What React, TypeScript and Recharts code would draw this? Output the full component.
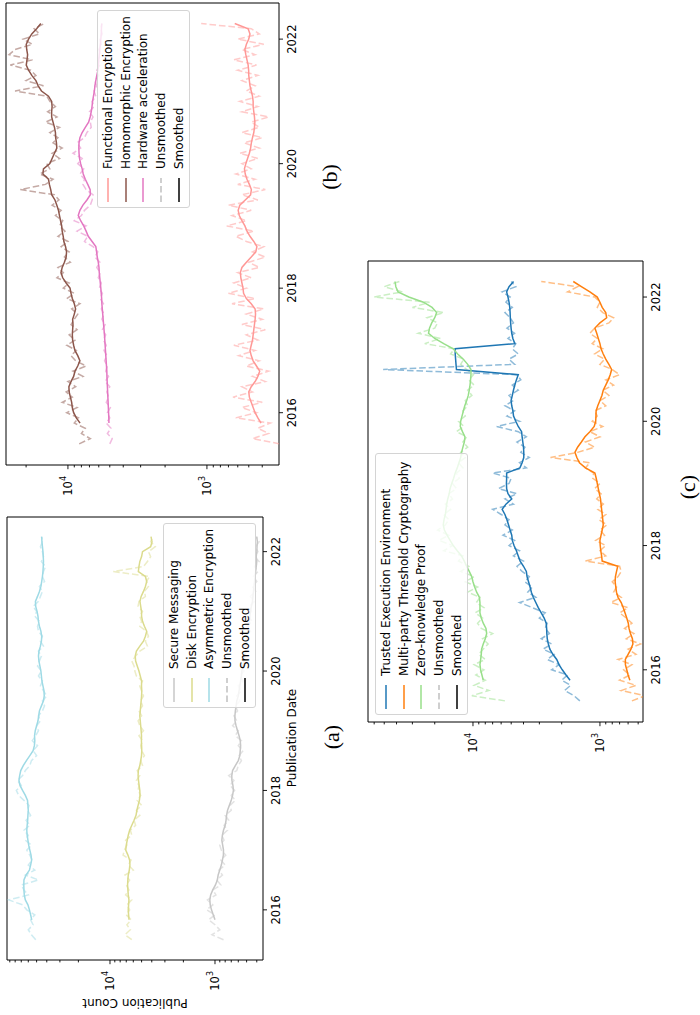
import React from 'react';
import { LineChart, Line, XAxis, YAxis, ReferenceArea } from 'recharts';

const FONT = '"DejaVu Sans", sans-serif';
const SERIF = '"Liberation Serif", "DejaVu Serif", serif';

// monthly samples, Jul 2015 .. Apr 2022
const START_YEAR = 2015.5;
const months: number[] = Array.from({ length: 82 }, (_, i) => START_YEAR + i / 12);

const yearTicks = [2016, 2018, 2020, 2022];
const xDomain: [number, number] = [2015.16, 2022.58];
const majorTicks = [1000, 10000];
const minorTicks = [
  200, 300, 400, 500, 600, 700, 800, 900,
  2000, 3000, 4000, 5000, 6000, 7000, 8000, 9000,
  20000, 30000, 40000, 50000, 60000, 70000, 80000, 90000,
];

const _ = null;

// ---- panel (a)
const secureRaw = [
  830, 1070, 900, 1000, 1150, 1000, 1200, 1050, 1180, 980,
  1050, 880, 960, 850, 920, 800, 880, 790, 870, 900,
  820, 860, 760, 820, 740, 800, 700, 720, 640, 700,
  650, 720, 660, 740, 620, 600, 560, 590, 540, 600,
  560, 640, 600, 680, 620, 660, 610, 640, 580, 620,
  560, 600, 540, 580, 530, 570, 500, 550, 480, 530,
  470, 520, 460, 500, 440, 490, 450, 470, 420, 460,
  410, 440, 400, 430, 390, 420, 380, 420, 390, 410,
  380, 410,
];
const secureSmooth = [
  _, _, _, _, 1000, 1040, 1080, 1110, 1120, 1100,
  1050, 990, 950, 933, 900, 870, 850, 832, 830, 845,
  861, 850, 830, 800, 785, 776, 760, 730, 700, 680,
  668, 675, 690, 692, 680, 640, 600, 580, 575, 570,
  575, 590, 610, 630, 645, 646, 640, 630, 620, 600,
  590, 580, 570, 560, 555, 545, 530, 520, 510, 505,
  500, 495, 490, 480, 470, 465, 460, 450, 440, 435,
  430, 425, 420, 415, 410, 405, 400, 405, 400, 398,
  395, 400,
];
const diskRaw = [
  6200, 7200, 6400, 6900, 6300, 7000, 6500, 6900, 6200, 7100,
  6600, 7000, 6500, 7200, 6000, 6700, 6300, 7500, 7300, 6900,
  7100, 6200, 6400, 5700, 5900, 5200, 5600, 5000, 5500, 5100,
  5400, 5300, 5600, 5200, 5500, 4900, 5100, 4700, 5000, 5100,
  4900, 5300, 4800, 5200, 5400, 5000, 5300, 4900, 5100, 4800,
  5000, 5200, 4900, 5600, 5800, 5900, 6200, 5700, 5200, 4400,
  4600, 4300, 4500, 5200, 5000, 5200, 4900, 5400, 5300, 4600,
  4700, 4300, 4500, 4200, 9300, 4800, 4400, 4100, 4300, 3700,
  4100, 3900,
];
const diskSmooth = [
  _, _, _, _, 6590, 6650, 6700, 6650, 6600, 6700,
  6750, 6800, 6760, 6700, 6550, 6460, 6500, 6750, 7080, 7000,
  6850, 6700, 6500, 6200, 5900, 5650, 5550, 5400, 5250, 5180,
  5200, 5280, 5350, 5400, 5370, 5200, 5100, 5010, 4980, 5000,
  5020, 5010, 5050, 5100, 5150, 5200, 5150, 5100, 5050, 5000,
  4980, 5010, 5000, 5150, 5300, 5500, 5700, 5750, 5600, 5200,
  4800, 4600, 4470, 4700, 4900, 5000, 5010, 5100, 5180, 5050,
  4800, 4600, 4470, 4600, 5370, 5300, 5200, 5000, 4900, 4100,
  3980, 4070,
];
const asymRaw = [
  51000, 56000, 60000, 54000, 57000, 52000, 62000, 68000, 92000, 60000,
  66000, 70000, 48000, 64000, 52000, 60000, 55000, 58000, 62000, 56000,
  64000, 60000, 66000, 58000, 63000, 57000, 61000, 59000, 66000, 74000,
  78000, 70000, 76000, 68000, 64000, 58000, 56000, 50000, 54000, 49000,
  55000, 51000, 48000, 50000, 46000, 48000, 44000, 42000, 44000, 40000,
  43000, 46000, 44000, 48000, 45000, 49000, 47000, 45000, 48000, 43000,
  46000, 44000, 48000, 49000, 47000, 52000, 50000, 54000, 48000, 46000,
  44000, 47000, 42000, 44000, 43000, 41000, 45000, 43000, 44000, 46000,
  44000, 45000,
];
const asymSmooth = [
  _, _, _, _, 55600, 57000, 58500, 60500, 64000, 65500,
  66000, 66200, 66000, 63000, 58500, 57000, 55800, 56500, 58000, 59500,
  60500, 61500, 62000, 61500, 60800, 60500, 60000, 60500, 61000, 64000,
  68000, 72000, 73600, 72500, 70800, 67000, 62500, 58000, 54000, 52500,
  52000, 52300, 51500, 50000, 48500, 47800, 47000, 45000, 43000, 42300,
  42500, 43500, 44500, 45000, 45500, 46500, 47500, 48000, 47500, 46000,
  45000, 44700, 45500, 47000, 48000, 48500, 49500, 51000, 51300, 49000,
  47000, 45500, 44700, 44000, 43500, 43200, 43000, 43200, 43500, 44000,
  44500, 44700,
];

// ---- panel (b)
const functionalRaw = [
  300, 470, 360, 430, 350, 620, 440, 560, 400, 650,
  470, 560, 380, 470, 360, 520, 420, 590, 450, 640,
  430, 520, 380, 560, 400, 520, 390, 660, 450, 700,
  520, 640, 480, 600, 420, 500, 380, 470, 390, 520,
  620, 460, 720, 520, 660, 480, 700, 430, 560, 380,
  600, 450, 620, 480, 560, 430, 580, 420, 540, 400,
  560, 420, 480, 360, 560, 430, 580, 420, 520, 450,
  560, 430, 600, 440, 640, 450, 560, 390, 600, 420,
  480, 1100,
];
const functionalSmooth = [
  _, _, _, _, 408, 430, 450, 465, 480, 495,
  500, 480, 450, 430, 417, 440, 465, 480, 490, 480,
  470, 465, 460, 455, 450, 447, 450, 480, 520, 545,
  550, 560, 570, 575, 560, 520, 480, 445, 437, 460,
  490, 515, 533, 560, 585, 596, 580, 530, 485, 479,
  495, 515, 530, 537, 525, 510, 495, 485, 479, 470,
  460, 455, 452, 455, 460, 465, 465, 470, 480, 490,
  495, 500, 501, 505, 515, 525, 533, 520, 500, 490,
  505, 631,
];
const homomorphicRaw = [
  8300, 6900, 8000, 7500, 9000, 8400, 10200, 8600, 11000, 9300,
  10300, 8800, 10000, 7800, 9200, 7400, 8800, 9500, 8700, 10200,
  8900, 9800, 8600, 9500, 9000, 8500, 9400, 8200, 10200, 9000,
  10800, 9800, 12000, 10800, 11800, 9600, 10600, 9800, 11200, 10000,
  11800, 10500, 11500, 10900, 12300, 11200, 13000, 11600, 12500, 22000,
  14500, 12800, 16000, 13500, 14200, 11500, 13000, 11000, 12800, 11800,
  13500, 11500, 14500, 12000, 14000, 12300, 13500, 14200, 24000, 15000,
  20000, 17000, 18500, 26000, 18000, 26500, 24000, 18000, 21000, 16000,
  17500, 14800,
];
const homomorphicSmooth = [
  _, _, _, _, 8180, 8700, 9100, 9300, 9400, 9600,
  9800, 9840, 9500, 9100, 8900, 8500, 8200, 8500, 8910, 9100,
  9250, 9300, 9250, 9200, 9250, 9000, 8810, 9000, 9300, 9500,
  9660, 10300, 10900, 11220, 11000, 10600, 10300, 10230, 10400, 10700,
  10810, 11000, 11090, 11300, 11500, 11700, 12020, 12400, 13090, 13300,
  13600, 13800, 15140, 15000, 13490, 13000, 12500, 12020, 12100, 12250,
  12300, 12500, 12800, 13090, 13100, 13000, 13090, 13800, 15500, 16370,
  17000, 18200, 19200, 19950, 19700, 19500, 19800, 19950, 19200, 18200,
  16800, 15670,
];
const hardwareRaw = [
  5000, 4800, 5200, 4900, 5300, 5000, 5200, 4950, 5300, 5100,
  5250, 5000, 5400, 5100, 5350, 5200, 5450, 5250, 5500, 5300,
  5550, 5350, 5650, 5400, 5700, 5500, 5750, 5550, 5850, 5650,
  5950, 5750, 6050, 5850, 6200, 5900, 6400, 6100, 6600, 7600,
  7200, 8600, 7400, 9000, 8000, 7600, 6900, 6700, 6600, 7400,
  7800, 7600, 8200, 7700, 8500, 7900, 9200, 8100, 8600, 7600,
  7300, 6800, 6900, 6600, 7000, 6500, 6700, 6300, 6500, 6200,
  6400, 6000, 6200, 5900, 6100, 5800, 6000, 5750, 5900, 5650,
  5800, 5700,
];
const hardwareSmooth = [
  _, _, _, _, 5070, 5080, 5100, 5120, 5140, 5160,
  5180, 5200, 5220, 5240, 5250, 5280, 5310, 5340, 5370, 5400,
  5430, 5460, 5500, 5540, 5580, 5620, 5660, 5700, 5720, 5760,
  5800, 5850, 5900, 5950, 5980, 6050, 6150, 6220, 6300, 6700,
  7140, 7400, 7700, 8100, 8430, 8200, 7800, 7300, 6900, 6920,
  7200, 7500, 7760, 7900, 8100, 8250, 8320, 8350, 8320, 8200,
  7900, 7500, 7100, 6920, 6800, 6710, 6650, 6550, 6450, 6400,
  6300, 6200, 6080, 6030, 6000, 5950, 5900, 5850, 5800, 5760,
  5740, 5710,
];

// ---- panel (c)
const teeRaw = [
  1440, 1600, 1900, 1700, 2000, 1800, 2400, 2100, 2600, 2300,
  2800, 2400, 2900, 2500, 2700, 2600, 3000, 2700, 3400, 4300,
  3200, 3700, 3400, 3900, 3600, 4100, 4500, 4000, 4800, 4300,
  5200, 4700, 5800, 4900, 5600, 5200, 6000, 7000, 4800, 5600,
  4500, 6300, 5200, 5000, 7000, 3800, 4300, 3600, 4200, 3900,
  4500, 3800, 4400, 6500, 4300, 5400, 4700, 5600, 4800, 5200,
  4400, 4900, 4200, 4500, 51000, 4700, 5200, 4400, 4900, 4600,
  5300, 4700, 5400, 4800, 5100, 5600, 4900, 5500, 5100, 5900,
  4600, 5000,
];
const teeSmooth = [
  _, _, _, _, 1720, 1850, 1980, 2100, 2190, 2350,
  2480, 2550, 2600, 2620, 2630, 2650, 2750, 2900, 3060, 3200,
  3350, 3470, 3550, 3650, 3750, 3800, 4000, 4250, 4400, 4550,
  4750, 4900, 4950, 5100, 5250, 5400, 5600, 5890, 5500, 4950,
  5300, 5430, 5450, 5430, 5430, 4270, 4100, 3980, 3980, 4000,
  4050, 4100, 4140, 4400, 4600, 4790, 4850, 4950, 5010, 4900,
  4800, 4680, 4550, 4400, 13490, 13600, 13700, 13800, 13800, 4680,
  4850, 4950, 5010, 5050, 5080, 5100, 5130, 5200, 5300, 5430,
  5200, 4790,
];
const multipartyRaw = [
  560, 440, 680, 520, 700, 580, 650, 560, 720, 520,
  600, 480, 620, 540, 640, 560, 620, 700, 600, 820,
  680, 780, 740, 800, 720, 680, 700, 1300, 900, 1000,
  900, 1080, 920, 1000, 880, 1020, 900, 1040, 940, 1060,
  980, 1100, 1000, 1140, 1120, 1300, 1200, 2450, 1500, 1100,
  1300, 1000, 1200, 950, 1150, 1050, 1100, 900, 1000, 850,
  950, 780, 900, 700, 800, 1000, 920, 1100, 950, 1150,
  1050, 1200, 1100, 850, 780, 950, 1050, 1000, 1100, 1800,
  1500, 2900,
];
const multipartySmooth = [
  _, _, _, _, 581, 600, 615, 630, 631, 600,
  570, 550, 555, 575, 590, 598, 615, 635, 655, 680,
  720, 741, 750, 759, 755, 740, 724, 960, 970, 985,
  995, 1000, 980, 960, 942, 950, 960, 970, 980, 990,
  1010, 1030, 1050, 1070, 1096, 1300, 1450, 1520, 1574, 1500,
  1400, 1312, 1200, 1110, 1080, 1075, 1072, 1040, 1000, 965,
  942, 900, 860, 830, 809, 850, 900, 942, 980, 1000,
  1030, 1060, 1096, 1000, 885, 900, 960, 1000, 1050, 1200,
  1400, 1622,
];
const zkRaw = [
  5600, 10200, 7500, 9800, 8000, 9500, 8200, 9800, 8000, 9000,
  8300, 7600, 8400, 7000, 8600, 9200, 8400, 9600, 8200, 9400,
  8800, 11000, 9200, 11500, 9800, 12500, 10800, 13000, 12000, 17000,
  14500, 18500, 15500, 19000, 16500, 15500, 17000, 15000, 16500, 14500,
  15500, 13500, 14500, 12800, 13500, 12000, 13000, 11500, 12500, 11000,
  12000, 11200, 13500, 11800, 13000, 11500, 12000, 11000, 11500, 10200,
  11000, 9800, 10800, 9900, 11200, 12500, 11800, 15000, 14000, 24000,
  18000, 27000, 20000, 19000, 23000, 17000, 30000, 22000, 60000, 36000,
  50000, 38000,
];
const zkSmooth = [
  _, _, _, _, 8300, 8500, 8700, 8810, 8700, 8600,
  8550, 8300, 8000, 7800, 7900, 8300, 8600, 8810, 8810, 8810,
  8900, 9350, 9700, 10000, 10230, 10700, 11220, 11700, 12300, 13300,
  14300, 15140, 16000, 16800, 17140, 16900, 16500, 16300, 16110, 15800,
  15400, 15140, 14700, 14200, 13800, 13300, 12900, 12500, 12300, 12000,
  11700, 11560, 12100, 12590, 12500, 12200, 11910, 11600, 11200, 10890,
  10700, 10550, 10450, 10370, 10370, 11000, 11910, 13200, 14290, 17000,
  20000, 22390, 22000, 21130, 20000, 19320, 21000, 24550, 32000, 38900,
  40500, 41100,
];

type Series = { name: string; color: string; raw: (number | null)[]; smooth: (number | null)[] };

const seriesA: Series[] = [
  { name: 'Secure Messaging', color: '#c7c7c7', raw: secureRaw, smooth: secureSmooth },
  { name: 'Disk Encryption', color: '#dbdb8d', raw: diskRaw, smooth: diskSmooth },
  { name: 'Asymmetric Encryption', color: '#9edae5', raw: asymRaw, smooth: asymSmooth },
];
const seriesB: Series[] = [
  { name: 'Functional Encryption', color: '#ff9896', raw: functionalRaw, smooth: functionalSmooth },
  { name: 'Homomorphic Encryption', color: '#8c564b', raw: homomorphicRaw, smooth: homomorphicSmooth },
  { name: 'Hardware acceleration', color: '#e377c2', raw: hardwareRaw, smooth: hardwareSmooth },
];
const seriesC: Series[] = [
  { name: 'Trusted Execution Environment', color: '#1f77b4', raw: teeRaw, smooth: teeSmooth },
  { name: 'Multi-party Threshold Cryptography', color: '#ff7f0e', raw: multipartyRaw, smooth: multipartySmooth },
  { name: 'Zero-knowledge Proof', color: '#98df8a', raw: zkRaw, smooth: zkSmooth },
];

const LogTick = (props: any) => {
  const { x, y, payload } = props;
  const exp = Math.log10(payload.value);
  const major = Math.abs(exp - Math.round(exp)) < 1e-6;
  const len = major ? 4.2 : 2.4;
  return (
    <g>
      <line x1={x - len} x2={x} y1={y} y2={y} stroke="#000" strokeWidth={0.9} />
      {major && (
        <text x={x - 11} y={y + 4} textAnchor="end" fontSize={11.5} fontFamily={FONT} fill="#000">
          10<tspan fontSize={8} dy={-6}>{Math.round(exp)}</tspan>
        </text>
      )}
    </g>
  );
};

interface PanelProps {
  left: number;
  top: number;
  width: number;
  height: number;
  margin: { top: number; right: number; bottom: number; left: number };
  yWidth: number;
  yDomain: [number, number];
  series: Series[];
}

const Panel: React.FC<PanelProps> = ({ left, top, width, height, margin, yWidth, yDomain, series }) => {
  const data = months.map((t, i) => {
    const row: any = { t };
    series.forEach((s, k) => {
      row['r' + k] = s.raw[i];
      row['s' + k] = s.smooth[i];
    });
    return row;
  });
  const yTicks = [...majorTicks, ...minorTicks].filter((v) => v >= yDomain[0] && v <= yDomain[1]);
  return (
    <div style={{ position: 'absolute', left, top }}>
      <LineChart width={width} height={height} data={data} margin={margin}>
        <XAxis
          type="number"
          dataKey="t"
          domain={xDomain}
          ticks={yearTicks}
          allowDataOverflow
          height={30}
          axisLine={false}
          tickSize={4}
          tickMargin={5}
          tickLine={{ stroke: '#000', strokeWidth: 0.9 }}
          tick={{ fontSize: 11.5, fill: '#000', fontFamily: FONT }}
          interval={0}
        />
        <YAxis
          type="number"
          scale="log"
          domain={yDomain}
          allowDataOverflow
          ticks={yTicks}
          interval={0}
          width={yWidth}
          axisLine={false}
          tickLine={false}
          tickSize={0}
          tickMargin={0}
          tick={<LogTick />}
        />
        {series.map((s, k) => (
          <Line
            key={'r' + k}
            dataKey={'r' + k}
            type="linear"
            stroke={s.color}
            strokeOpacity={0.5}
            strokeWidth={1.5}
            strokeDasharray="6.6 2.9"
            dot={false}
            isAnimationActive={false}
          />
        ))}
        {series.map((s, k) => (
          <Line
            key={'s' + k}
            dataKey={'s' + k}
            type="linear"
            stroke={s.color}
            strokeWidth={1.5}
            dot={false}
            isAnimationActive={false}
          />
        ))}
        <ReferenceArea
          x1={xDomain[0]}
          x2={xDomain[1]}
          y1={yDomain[0]}
          y2={yDomain[1]}
          fill="none"
          stroke="#000"
          strokeWidth={1}
          ifOverflow="visible"
        />
      </LineChart>
    </div>
  );
};

const LegendBox: React.FC<{ left: number; top: number; width: number; series: Series[] }> = ({ left, top, width, series }) => {
  const entries = [
    ...series.map((s) => ({ name: s.name, color: s.color, dash: undefined as string | undefined, opacity: 1 })),
    { name: 'Unsmoothed', color: '#808080', dash: '6.6 2.9', opacity: 0.5 },
    { name: 'Smoothed', color: '#000', dash: undefined, opacity: 1 },
  ];
  return (
    <div
      style={{
        position: 'absolute',
        left,
        top,
        width,
        height: 93,
        boxSizing: 'border-box',
        background: 'rgba(255,255,255,0.8)',
        border: '1px solid #d4d4d4',
        borderRadius: 3,
        fontFamily: FONT,
        fontSize: 12,
        color: '#000',
      }}
    >
      {entries.map((e, k) => (
        <div
          key={e.name}
          style={{ position: 'absolute', left: 0, top: 1 + k * 17.8, height: 17.8, display: 'flex', alignItems: 'center', whiteSpace: 'nowrap' }}
        >
          <svg width={38} height={6} style={{ display: 'block' }}>
            <line x1={5} x2={29} y1={3} y2={3} stroke={e.color} strokeOpacity={e.opacity} strokeWidth={1.5} strokeDasharray={e.dash} />
          </svg>
          <span>{e.name}</span>
        </div>
      ))}
    </div>
  );
};

const textBase: React.CSSProperties = { position: 'absolute', whiteSpace: 'nowrap', textAlign: 'center', color: '#000' };

export default function App() {
  return (
    <div style={{ position: 'absolute', left: 0, top: 0, width: 700, height: 1015, overflow: 'hidden', background: '#fff' }}>
      <div
        style={{
          position: 'absolute',
          left: 0,
          top: 0,
          width: 1015,
          height: 700,
          transform: 'translate(0px, 1015px) rotate(-90deg)',
          transformOrigin: '0 0',
        }}
      >
        <Panel
          left={0}
          top={0}
          width={510}
          height={300}
          margin={{ top: 7, right: 12, bottom: 7, left: 0 }}
          yWidth={55}
          yDomain={[349, 95700]}
          series={seriesA}
        />
        <Panel
          left={480}
          top={0}
          width={535}
          height={320}
          margin={{ top: 6, right: 3, bottom: 11, left: 0 }}
          yWidth={70}
          yDomain={[303, 27900]}
          series={seriesB}
        />
        <Panel
          left={223}
          top={340}
          width={541}
          height={340}
          margin={{ top: 28, right: 10, bottom: 7, left: 0 }}
          yWidth={70}
          yDomain={[458, 67100]}
          series={seriesC}
        />

        <LegendBox left={307} top={163} width={185} series={seriesA} />
        <LegendBox left={807} top={97} width={198} series={seriesB} />
        <LegendBox left={300} top={375} width={262} series={seriesC} />

        <div style={{ ...textBase, left: 217, top: 285, width: 120, fontFamily: FONT, fontSize: 12, lineHeight: '14px' }}>
          Publication Date
        </div>
        <div
          style={{
            ...textBase,
            left: -48,
            top: 128,
            width: 120,
            fontFamily: FONT,
            fontSize: 12,
            lineHeight: '14px',
            transform: 'rotate(-90deg)',
          }}
        >
          Publication Count
        </div>

        <div style={{ ...textBase, left: 248, top: 321, width: 60, fontFamily: SERIF, fontSize: 22, lineHeight: '22px' }}>(a)</div>
        <div style={{ ...textBase, left: 808, top: 319, width: 60, fontFamily: SERIF, fontSize: 22, lineHeight: '22px' }}>(b)</div>
        <div style={{ ...textBase, left: 498, top: 677, width: 60, fontFamily: SERIF, fontSize: 22, lineHeight: '22px' }}>(c)</div>
      </div>
    </div>
  );
}
